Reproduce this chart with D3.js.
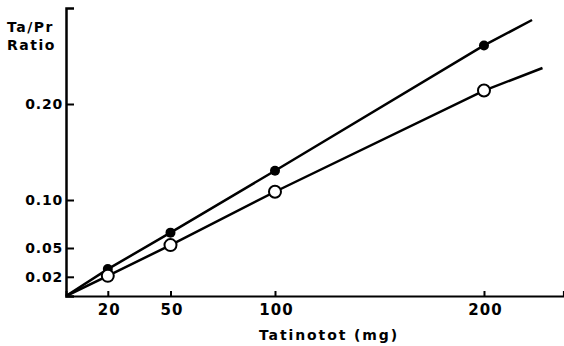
<!DOCTYPE html>
<html><head><meta charset="utf-8">
<script src="https://cdn.jsdelivr.net/npm/d3@7"></script>
<style>
body{margin:0;background:#fff;}
text{font-family:"DejaVu Sans",sans-serif;fill:#000;}
</style></head>
<body><svg id="c" width="564" height="346"></svg>
<script>
const doses = [0, 20, 50, 100, 200, 223];
const filledSeries = [0, 0.028, 0.066, 0.1305, 0.261, 0.2875];
const dosesOpen = [0, 20, 50, 100, 200, 228];
const openSeries = [0, 0.021, 0.053, 0.1086, 0.214, 0.2375];
const markerDoses = [20, 50, 100, 200];
const xTicks = [20, 50, 100, 200];
const yTicks = [0.02, 0.05, 0.10, 0.20];
const yTickLabels = ["0.02", "0.05", "0.10", "0.20"];

const svg = d3.select("#c");
const x = d3.scaleLinear().domain([0, 238]).range([66, 563.4]);
const y = d3.scaleLinear().domain([0, 0.3]).range([296, 8]);

// x axis
const xa = svg.append("g").attr("transform", "translate(0,296)")
  .call(d3.axisBottom(x).tickValues(xTicks).tickSize(-5).tickPadding(8).tickFormat(d3.format("d")));
xa.select(".domain").attr("stroke-width", 2);
xa.selectAll(".tick line").attr("stroke-width", 2);
xa.selectAll("text").attr("font-size", 15).attr("font-weight", "bold").attr("font-family", "DejaVu Sans")
  .attr("letter-spacing", 1).attr("dx", 1);

// y axis
const ya = svg.append("g").attr("transform", "translate(66,0)")
  .call(d3.axisLeft(y).tickValues(yTicks).tickSize(-8).tickPadding(3).tickFormat((d, i) => yTickLabels[i]));
ya.select(".domain").attr("stroke-width", 2.5);
ya.selectAll(".tick line").attr("stroke-width", 2);
ya.selectAll("text").attr("font-size", 14).attr("font-weight", "bold").attr("font-family", "DejaVu Sans")
  .attr("letter-spacing", 0.8);

// labels
svg.append("text").attr("x", 7).attr("y", 32).attr("font-size", 14).attr("font-weight", "bold").attr("letter-spacing", 1.5).text("Ta/Pr");
svg.append("text").attr("x", 7).attr("y", 50).attr("font-size", 14).attr("font-weight", "bold").attr("letter-spacing", 1.5).text("Ratio");
svg.append("text").attr("x", 329).attr("y", 340).attr("text-anchor", "middle").attr("font-size", 14).attr("font-weight", "bold").attr("letter-spacing", 1.9).text("Tatinotot (mg)");

const line = d3.line().x(d => x(d[0])).y(d => y(d[1]));
svg.append("path").datum(doses.map((d, i) => [d, filledSeries[i]]))
  .attr("d", line).attr("fill", "none").attr("stroke", "#000").attr("stroke-width", 2.5);
svg.append("path").datum(dosesOpen.map((d, i) => [d, openSeries[i]]))
  .attr("d", line).attr("fill", "none").attr("stroke", "#000").attr("stroke-width", 2.5);

svg.selectAll(".pf").data(markerDoses).enter().append("circle")
  .attr("cx", d => x(d)).attr("cy", d => y(filledSeries[doses.indexOf(d)]))
  .attr("r", 5).attr("fill", "#000");
svg.selectAll(".po").data(markerDoses).enter().append("circle")
  .attr("cx", d => x(d)).attr("cy", d => y(openSeries[dosesOpen.indexOf(d)]))
  .attr("r", 6).attr("fill", "#fff").attr("stroke", "#000").attr("stroke-width", 2);
</script></body></html>
